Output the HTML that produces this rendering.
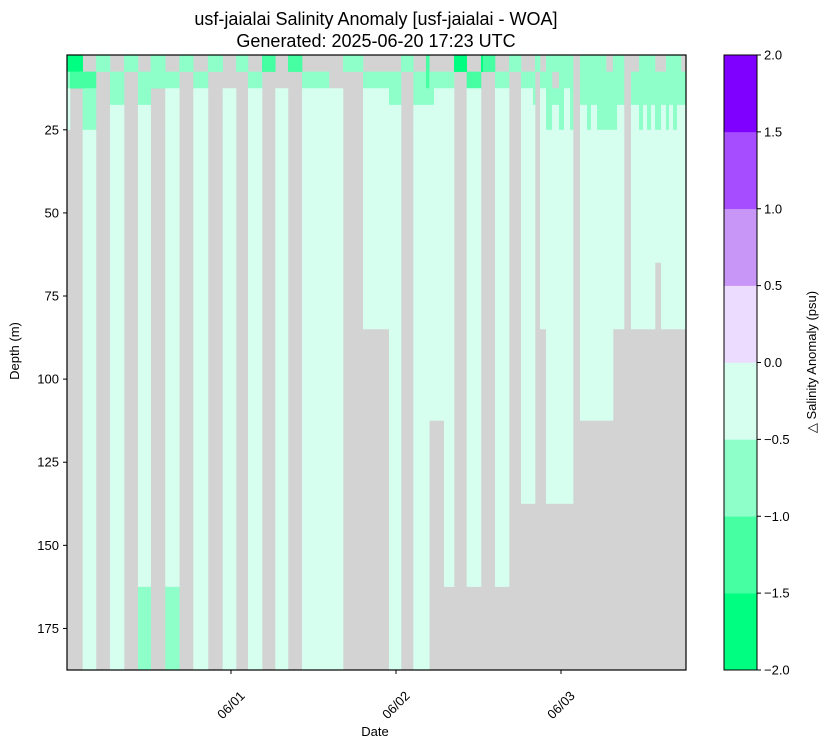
<!DOCTYPE html>
<html><head><meta charset="utf-8"><style>
body{margin:0;background:#fff;}
svg{font-family:"Liberation Sans","DejaVu Sans",sans-serif;}
</style></head><body>
<svg id="chart" width="828" height="748" viewBox="0 0 828 748" xmlns="http://www.w3.org/2000/svg">
<text x="376" y="25" font-size="18" text-anchor="middle">usf-jaialai Salinity Anomaly [usf-jaialai - WOA]</text>
<text x="376" y="47" font-size="18" text-anchor="middle">Generated: 2025-06-20 17:23 UTC</text>
<g id="plot"></g>
<g id="axes"></g>
<g id="cbar"></g>
<text x="30" y="362" font-size="13" text-anchor="middle" transform="rotate(-90 19 362)">Depth (m)</text>
<text x="375" y="736" font-size="13" text-anchor="middle">Date</text>
<text x="816" y="362" font-size="13" text-anchor="middle" transform="rotate(-90 816 362)">△ Salinity Anomaly (psu)</text>
</svg>
<script>
// Data
const codeValues = {a:-1.75, b:-1.25, c:-0.75, d:-0.25, g:null};
const rowEdges = [2.5, 7.5, 12.5, 17.5, 25];
const colStarts = [0.15,0.58,2.43,4.36,6.4,8.44,10.47,12.32,14.44,16.48,18.52,20.65,22.79,24.73,26.47,28.51,30.44,32.29,34.33,38.25,40.29,43.2,46.98,48.73,50.52,52.36,52.84,53.53,54.98,56.44,58.28,60.36,60.65,62.4,64.44,66.18,67.93,68.22,68.95,69.82,70.69,71.7,72.44,73.31,73.75,74.76,75.78,76.36,77.24,78.55,79.56,80.15,81.16,82.18,83.35,83.93,84.51,85.09,85.67,86.55,87.27,87.71,88.29,88.87,89.45];
const endHour = 90.18;
const colTop = ["acdd","abgg","gbcc","cggg","gccd","cggg","gccd","ccgg","gcdd","cggg","gcdd","cggg","ggdd","cggg","gcdd","bggg","ggdd","bggg","gcdd","ggdd","cggg","gcdd","gccd","cggg","gccd","bbcd","gccd","gcdd","gcdd","aggg","gbdd","aggg","bggg","gcdd","cggg","gcdd","gccd","cggg","gcdd","cccc","cgcd","cccc","ccdd","cccc","gggg","cccd","cccc","cccd","cccc","gccc","cccc","cccd","gggg","gccd","cccc","cccd","cccc","cccd","gccc","gccd","cccc","cccd","cccc","cccd","gccd"];
const colBottom = [25,0,187.5,0,187.5,0,187.5,0,187.5,0,187.5,0,187.5,0,187.5,0,187.5,0,187.5,187.5,0,85,187.5,0,187.5,187.5,112.5,112.5,162.5,0,162.5,0,0,162.5,0,137.5,137.5,0,85,137.5,137.5,137.5,137.5,137.5,0,112.5,112.5,112.5,112.5,112.5,85,85,0,85,85,85,85,85,65,85,85,85,85,85,85];
const deepCFrom = {6:162.5, 8:162.5};
const cbarLevels = [-2,-1.5,-1,-0.5,0,0.5,1,1.5,2];
const cbarColors = ["#00ff80","#47ffa3","#8effc8","#d6fff0","#ecdcff","#c896f7","#a64dff","#8000ff"];
const yTicks = [25,50,75,100,125,150,175];
const xTickHours = [24,48,72];
const xTickLabels = ["06/01","06/02","06/03"];

const NS="http://www.w3.org/2000/svg";
const PX0=67, PX1=686, PY0=55, PY1=670;
const T0=0.15, T1=90.18, D0=2.5, D1=187.5;
const xs = t => PX0 + (t-T0)/(T1-T0)*(PX1-PX0);
const ys = d => PY0 + (d-D0)/(D1-D0)*(PY1-PY0);
function color(v){ if(v===null) return "#d3d3d3"; for(let i=0;i<8;i++){ if(v<cbarLevels[i+1]) return cbarColors[i]; } return cbarColors[7]; }
function mk(tag, attrs, parent){ const e=document.createElementNS(NS,tag); for(const k in attrs) e.setAttribute(k,attrs[k]); parent.appendChild(e); return e; }

const plot=document.getElementById('plot');
mk('rect',{x:PX0,y:PY0,width:PX1-PX0,height:PY1-PY0,fill:"#d3d3d3"},plot);
for(let i=0;i<colStarts.length;i++){
  const t0=colStarts[i], t1=(i+1<colStarts.length)?colStarts[i+1]:endHour;
  const x0=xs(t0), w=xs(t1)-x0+0.3;
  for(let r=0;r<4;r++){
    const v=codeValues[colTop[i][r]];
    if(v===null) continue;
    const c=mk('rect',{x:x0,y:ys(rowEdges[r]),width:w,height:ys(rowEdges[r+1])-ys(rowEdges[r])+0.3,fill:color(v)},plot);
    
    
  }
  const bot=colBottom[i];
  if(bot>25){
    const cf=deepCFrom[i]||bot;
    const c=mk('rect',{x:x0,y:ys(25),width:w,height:ys(cf)-ys(25),fill:color(codeValues.d)},plot);
    
    
    if(cf<bot){
      const c2=mk('rect',{x:x0,y:ys(cf),width:w,height:ys(bot)-ys(cf),fill:color(codeValues.c)},plot);
      
      
    }
  }
}
const axes=document.getElementById('axes');
mk('rect',{x:PX0,y:PY0,width:PX1-PX0,height:PY1-PY0,fill:"none",stroke:"#000","stroke-width":1.2},axes);
yTicks.forEach(d=>{
  const y=ys(d);
  mk('line',{x1:PX0-4,x2:PX0,y1:y,y2:y,stroke:"#000"},axes);
  const t=mk('text',{x:PX0-8,y:y+4.5,"font-size":13,"text-anchor":"end"},axes);
  t.textContent=d;
  
  
});
xTickHours.forEach((h,i)=>{
  const x=xs(h);
  mk('line',{x1:x,x2:x,y1:PY1,y2:PY1+4,stroke:"#000"},axes);
  const cx=x, cy2=PY1+35;
  const t=mk('text',{x:cx,y:cy2+4.5,"font-size":13,"text-anchor":"middle",transform:`rotate(-45 ${cx} ${cy2})`},axes);
  t.textContent=xTickLabels[i];
  
  
});
const cb=document.getElementById('cbar');
const CX=724, CW=33;
const cy = v => PY1 - (v+2)/4*(PY1-PY0);
for(let i=0;i<8;i++){
  const s=mk('rect',{x:CX,y:cy(cbarLevels[i+1]),width:CW,height:cy(cbarLevels[i])-cy(cbarLevels[i+1])+0.3,fill:cbarColors[i]},cb);
  
  
}
mk('rect',{x:CX,y:PY0,width:CW,height:PY1-PY0,fill:"none",stroke:"#000","stroke-width":1},cb);
cbarLevels.forEach(v=>{
  const y=cy(v);
  mk('line',{x1:CX+CW,x2:CX+CW+4,y1:y,y2:y,stroke:"#000"},cb);
  const t=mk('text',{x:CX+CW+7,y:y+4.5,"font-size":13},cb);
  t.textContent=(v<0?"\u2212":"")+Math.abs(v).toFixed(1);
  
  
});
</script>
</body></html>
